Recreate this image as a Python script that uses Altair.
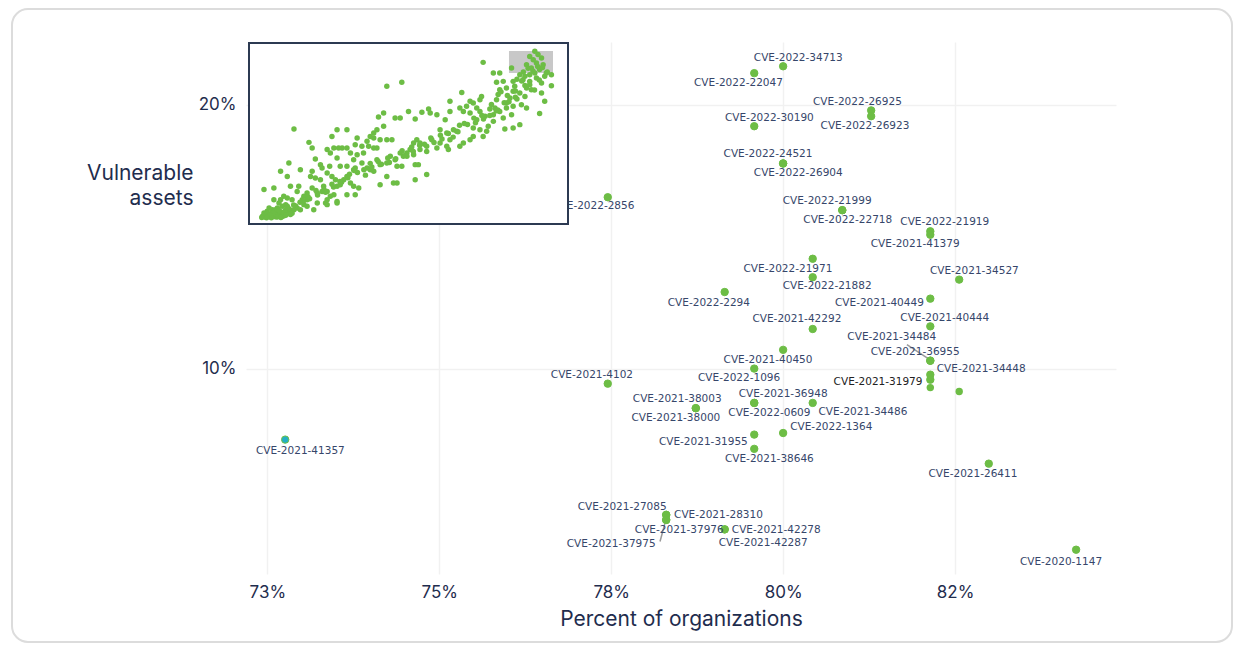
import altair as alt
import pandas as pd

# ---------------- main scatter (zoomed region) ----------------
cve = [
    "CVE-2022-34713", "CVE-2022-22047", "CVE-2022-26925", "CVE-2022-26923",
    "CVE-2022-30190", "CVE-2022-24521", "CVE-2022-26904", "CVE-2022-2856",
    "CVE-2022-21999", "CVE-2022-22718", "CVE-2022-21919", "CVE-2021-41379",
    "CVE-2021-34527", "CVE-2021-40449", "CVE-2021-40444", "CVE-2021-34484",
    "CVE-2021-36955", "CVE-2021-34448", "CVE-2021-31979", "CVE-2022-21971",
    "CVE-2022-21882", "CVE-2022-2294", "CVE-2021-42292", "CVE-2021-40450",
    "CVE-2022-1096", "CVE-2021-4102", "CVE-2021-38003", "CVE-2021-38000",
    "CVE-2021-36948", "CVE-2022-0609", "CVE-2021-34486", "CVE-2022-1364",
    "CVE-2021-31955", "CVE-2021-38646", "CVE-2021-27085", "CVE-2021-28310",
    "CVE-2021-37976", "CVE-2021-37975", "CVE-2021-42278", "CVE-2021-42287",
    "CVE-2021-41357", "CVE-2021-26411", "CVE-2020-1147",
]
org_pct = [
    80.00, 79.58, 81.28, 81.28, 79.58, 80.00, 80.00, 77.45,
    80.86, 80.86, 82.14, 82.14, 82.56, 82.14, 82.14, 82.14,
    82.14, 82.14, 82.14, 80.43, 80.43, 79.15, 80.43, 80.00,
    79.58, 77.45, 78.73, 78.73, 79.58, 79.58, 80.43, 80.00,
    79.58, 79.58, 78.30, 78.30, 78.30, 78.30, 79.15, 79.15,
    72.76, 82.99, 84.26,
]
asset_pct = [
    21.45, 21.19, 19.78, 19.56, 19.18, 17.77, 17.77, 16.49,
    16.00, 16.00, 15.20, 15.07, 13.37, 12.65, 11.60, 10.30,
    10.30, 9.77, 9.58, 14.16, 13.46, 12.90, 11.50, 10.71,
    10.00, 9.43, 8.50, 8.50, 8.70, 8.70, 8.70, 7.56,
    7.50, 6.96, 4.46, 4.46, 4.27, 4.27, 3.91, 3.91,
    7.31, 6.40, 3.14,
]
# repelled label anchors (data units)
label_org = [
    80.22, 79.35, 81.08, 81.19, 79.80, 79.78, 80.22, 77.24,
    80.64, 80.94, 82.35, 81.92, 82.78, 81.40, 82.35, 81.58,
    81.92, 82.88, 81.38, 80.07, 80.64, 78.92, 80.20, 79.78,
    79.36, 77.22, 78.46, 78.44, 80.00, 79.80, 81.16, 80.70,
    78.84, 79.80, 77.66, 79.06, 78.49, 77.50, 79.90, 79.71,
    72.98, 82.76, 84.04,
]
label_asset = [
    21.78, 20.83, 20.11, 19.20, 19.51, 18.11, 17.39, 16.14,
    16.36, 15.64, 15.57, 14.73, 13.71, 12.50, 11.93, 11.21,
    10.64, 10.00, 9.51, 13.79, 13.11, 12.50, 11.86, 10.34,
    9.66, 9.77, 8.83, 8.14, 9.02, 8.33, 8.37, 7.80,
    7.23, 6.59, 4.77, 4.47, 3.90, 3.37, 3.90, 3.41,
    6.89, 6.02, 2.69,
]
# unlabelled points
extra_org = [82.14, 82.56]
extra_asset = [9.28, 9.13]

# leader segments
seg_org = [81.80, 78.21]
seg_asset = [10.91, 3.45]
seg_org2 = [82.11, 78.28]
seg_asset2 = [10.38, 4.13]

x_ticks = [72.5, 75.0, 77.5, 80.0, 82.5]
x_tick_labels = ["73%", "75%", "78%", "80%", "82%"]
y_ticks = [10, 20]
y_tick_labels = ["10%", "20%"]

# ---------------- inset (full data overview) ----------------
inset_u = [
    89.6, 90.6, 88.0, 89.1, 91.7, 87.0, 90.1, 92.2, 88.5, 91.1, 93.2, 94.8, 82.3, 84.9, 86.5, 88.0,
    89.6, 85.9, 88.0, 90.1, 91.7, 92.7, 94.8, 82.8, 83.3, 87.0, 88.5, 91.7, 92.7, 91.1, 73.4, 76.6,
    78.6, 79.7, 77.6, 80.7, 82.8, 84.9, 86.5, 81.8, 80.7, 78.6, 78.1, 77.6, 80.7, 82.8, 85.4, 87.0,
    77.1, 78.6, 76.6, 79.7, 82.3, 84.9, 82.8, 80.2, 76.6, 75.0, 74.0, 72.4, 70.3, 71.4, 69.3, 72.4,
    72.9, 66.7, 63.0, 66.1, 67.2, 68.2, 69.3, 71.4, 70.3, 72.4, 74.5, 73.4, 70.3, 69.3, 67.2, 66.1,
    65.1, 64.1, 62.0, 63.0, 62.5, 59.9, 61.5, 63.0, 58.9, 56.8, 56.3, 54.2, 52.1, 50.0, 47.4, 45.8,
    43.2, 47.9, 40.6, 42.2, 40.1, 42.2, 39.1, 43.2, 44.8, 41.1, 39.1, 38.0, 37.0, 37.5, 39.1, 40.1,
    33.9, 33.3, 35.4, 35.9, 33.9, 31.8, 32.8, 30.7, 29.2, 28.1, 26.6, 26.0, 27.6, 30.7, 24.5, 25.5,
    27.6, 28.6, 30.7, 32.8, 33.3, 35.4, 37.0, 38.0, 39.1, 40.1, 41.1, 43.2, 44.3, 45.8, 48.4, 49.5,
    50.5, 51.6, 52.6, 53.6, 55.7, 57.3, 58.9, 59.9, 62.0, 55.7, 53.6, 51.6, 49.5, 47.4, 46.4, 47.9,
    52.1, 53.1, 55.7, 52.1, 46.4, 45.3, 43.2, 41.1, 18.8, 19.8, 14.1, 20.8, 22.4, 22.9, 19.8, 19.3,
    20.8, 22.4, 23.4, 24.5, 25.3, 26.0, 27.1, 27.6, 28.6, 29.7, 30.7, 31.8, 32.8, 34.4, 33.3, 30.7,
    26.6, 27.6, 25.5, 24.5, 22.9, 21.4, 19.8, 18.2, 17.2, 15.6, 15.1, 13.0, 12.0, 9.9, 12.5, 16.1,
    13.5, 12.0, 10.9, 11.5, 9.4, 7.8, 7.8, 4.7, 14.6, 16.1, 18.2, 20.3, 24.0, 24.5, 10.4, 8.9,
    7.3, 5.7, 4.7, 5.2, 6.8, 8.3, 9.9, 12.0, 13.0, 9.4, 10.9, 7.8, 6.3, 5.2, 7.3, 14.1,
    6.3, 4.2, 4.5, 13.0, 12.0, 9.9, 18.2, 21.4, 27.6, 24.5, 16.7, 8.9, 10.4, 5.7, 11.5, 15.1,
    17.2, 8.3,
    # extra readings from the denser parts of the cloud
    86.0, 87.5, 89.0, 90.5, 92.0, 93.5, 84.0, 85.5, 88.0, 91.0, 83.5, 86.5, 89.5, 81.0, 84.0, 79.0,
    81.5, 83.5, 76.0, 78.0, 80.0, 75.5, 77.5, 73.5, 75.5, 71.0, 73.0, 68.5, 70.5, 65.5, 67.5, 64.0,
    66.0, 60.5, 62.5, 58.0, 60.0, 55.0, 57.0, 51.5, 53.5, 49.0, 51.0, 46.0, 48.0, 44.0, 41.5, 43.5,
    38.5, 40.5, 36.0, 38.0, 34.0, 36.5, 31.0, 33.0, 29.0, 31.5, 26.5, 28.5, 24.0, 26.0, 21.5, 23.5,
    19.0, 21.0, 17.0, 18.5, 14.5, 16.0, 12.5, 14.0, 10.5, 12.0, 8.0, 9.5, 6.0, 7.5, 5.0, 6.5,
    8.5, 11.0, 13.5, 7.0, 9.0, 10.0, 11.5, 4.0, 5.5,
]
inset_v = [
    95.4, 93.6, 92.6, 90.8, 91.7, 88.0, 88.9, 88.0, 86.2, 85.3, 83.4, 82.5, 86.2, 82.5, 81.6, 82.5,
    83.4, 79.7, 78.8, 80.7, 77.9, 81.6, 76.4, 78.8, 76.1, 75.1, 74.2, 72.4, 67.8, 61.0, 89.3, 83.4,
    83.4, 78.8, 78.3, 75.1, 73.3, 72.4, 70.5, 69.6, 66.9, 74.2, 71.5, 68.7, 64.1, 65.0, 65.9, 64.1,
    64.1, 62.2, 60.4, 58.6, 60.4, 54.9, 53.0, 52.5, 56.7, 54.0, 59.5, 62.2, 66.9, 64.1, 67.8, 68.7,
    70.5, 72.7, 67.8, 64.1, 62.2, 65.0, 61.3, 57.6, 53.0, 52.1, 51.2, 48.4, 48.4, 46.6, 44.8, 42.9,
    51.2, 52.1, 50.3, 46.6, 41.1, 52.1, 57.6, 62.2, 60.4, 61.3, 63.5, 61.7, 58.0, 62.2, 58.6, 58.6,
    76.1, 78.3, 59.1, 61.3, 52.1, 54.0, 50.3, 46.6, 46.6, 46.6, 47.5, 48.4, 45.7, 42.9, 42.0, 42.0,
    47.5, 43.8, 42.9, 39.2, 38.3, 39.2, 35.5, 42.0, 42.0, 42.0, 42.0, 48.4, 52.1, 52.1, 41.1, 39.2,
    36.5, 31.9, 31.9, 30.0, 30.9, 33.7, 30.9, 30.0, 29.1, 35.5, 32.8, 33.7, 37.4, 35.5, 37.4, 39.2,
    41.1, 44.8, 46.6, 44.8, 42.9, 46.6, 42.0, 44.8, 42.9, 40.1, 41.1, 38.3, 37.4, 39.2, 31.9, 31.9,
    32.8, 32.8, 27.3, 24.5, 22.7, 22.7, 26.3, 21.7, 45.1, 42.0, 52.5, 35.9, 32.8, 30.9, 29.1, 26.3,
    25.4, 24.5, 20.8, 28.2, 31.9, 26.3, 24.5, 20.8, 21.7, 24.5, 26.3, 22.7, 20.8, 19.9, 16.2, 16.2,
    16.2, 11.6, 15.3, 18.0, 18.0, 17.1, 19.9, 17.1, 15.3, 20.8, 18.0, 20.8, 26.3, 29.1, 33.7, 30.0,
    13.4, 14.4, 15.3, 10.7, 11.6, 13.4, 19.9, 19.0, 9.8, 7.9, 9.8, 7.9, 11.6, 10.7, 9.8, 8.8,
    7.9, 7.0, 6.1, 5.2, 5.2, 6.1, 6.1, 7.0, 7.6, 5.2, 5.2, 4.2, 4.2, 4.2, 6.4, 7.9,
    8.8, 4.2, 4.6, 5.2, 9.8, 13.4, 13.4, 11.6, 12.5, 13.4, 13.4, 4.2, 4.2, 5.7, 7.9, 8.8,
    10.7, 7.9,
    84.0, 86.0, 84.5, 87.0, 86.5, 84.0, 80.0, 79.0, 77.0, 79.5, 73.5, 76.5, 74.0, 71.0, 69.0, 73.0,
    67.5, 70.0, 66.0, 63.0, 67.0, 60.0, 62.5, 58.0, 63.5, 56.0, 60.0, 55.0, 58.5, 51.0, 55.5, 48.0,
    54.5, 47.0, 50.0, 45.0, 49.0, 44.0, 47.5, 40.0, 43.5, 38.0, 42.5, 36.0, 40.5, 34.0, 33.0, 36.5,
    31.5, 34.5, 30.0, 33.5, 28.5, 27.0, 25.5, 29.5, 23.0, 27.5, 20.5, 23.5, 17.5, 22.0, 16.0, 19.0,
    14.0, 18.5, 12.5, 15.0, 10.0, 12.0, 8.5, 10.5, 6.5, 9.0, 5.5, 7.5, 4.5, 6.0, 3.8, 5.0,
    3.8, 4.5, 6.0, 3.5, 4.0, 3.6, 4.8, 3.6, 3.4,
]
# grey box in the inset marking the zoomed region
inset_box_u = [81.5, 95.3]
inset_box_v = [83.4, 95.6]

# ---------------- styling ----------------
GREEN = "#6dbd45"
TEAL = "#24b0c4"
NAVY = "#1f2d4e"
LABEL = "#36466a"
W, H = 870, 532
X_DOMAIN = [72.19, 84.84]
Y_DOMAIN = [2.22, 22.37]


def label_expr(vals, labs):
    parts = [f"datum.value == {v} ? '{l}'" for v, l in zip(vals, labs)]
    return " : ".join(parts) + " : ''"


xs = alt.Scale(domain=X_DOMAIN, nice=False, zero=False)
ys = alt.Scale(domain=Y_DOMAIN, nice=False, zero=False)

df = pd.DataFrame({
    "cve": cve, "org": org_pct, "assets": asset_pct,
    "lx": label_org, "ly": label_asset,
})
extra_df = pd.DataFrame({"org": extra_org, "assets": extra_asset})
seg_df = pd.DataFrame({"org": seg_org, "assets": seg_asset, "org2": seg_org2, "assets2": seg_asset2})
one = pd.DataFrame({"k": [0]})

x_axis = alt.Axis(
    values=x_ticks, labelExpr=label_expr(x_ticks, x_tick_labels),
    title="Percent of organizations", grid=True, gridColor="#f1f1f1", gridWidth=1.5,
    domain=False, ticks=False, labelPadding=10, titlePadding=8,
    labelFont="Inter", labelFontSize=17, labelColor=NAVY,
    titleFont="Inter", titleFontSize=21, titleFontWeight="normal", titleColor=NAVY,
)
y_axis = alt.Axis(
    values=y_ticks, labelExpr=label_expr(y_ticks, y_tick_labels),
    title=["Vulnerable", "assets"], titleAngle=0, titleAlign="right",
    titleBaseline="top", titleX=-53, titleY=120, titleLineHeight=25,
    grid=True, gridColor="#f1f1f1", gridWidth=1.5,
    domain=False, ticks=False, labelPadding=10,
    labelFont="Inter", labelFontSize=17, labelColor=NAVY,
    titleFont="Inter", titleFontSize=21, titleFontWeight="normal", titleColor=NAVY,
)

outer_frame = alt.Chart(one).mark_rect(
    fill="white", fillOpacity=0, stroke="#dcdcdc", strokeWidth=2, cornerRadius=16
).encode(x=alt.value(-234), x2=alt.value(986), y=alt.value(-33), y2=alt.value(600))

points = alt.Chart(df).mark_circle(size=55, opacity=1, stroke=GREEN, strokeWidth=1).encode(
    x=alt.X("org:Q", scale=xs, axis=x_axis),
    y=alt.Y("assets:Q", scale=ys, axis=y_axis),
    fill=alt.condition(alt.datum.cve == "CVE-2021-41357", alt.value(TEAL), alt.value(GREEN)),
)
extra_points = alt.Chart(extra_df).mark_circle(size=55, opacity=1, color=GREEN).encode(
    x=alt.X("org:Q", scale=xs, axis=x_axis),
    y=alt.Y("assets:Q", scale=ys, axis=y_axis),
)
segments = alt.Chart(seg_df).mark_rule(color="#9a9a9a", strokeWidth=1.5).encode(
    x=alt.X("org:Q", scale=xs, axis=x_axis), x2="org2:Q",
    y=alt.Y("assets:Q", scale=ys, axis=y_axis), y2="assets2:Q",
)
labels = alt.Chart(df).mark_text(
    font="DejaVu Sans", fontSize=10.5, align="center", baseline="middle"
).encode(
    x=alt.X("lx:Q", scale=xs, axis=x_axis),
    y=alt.Y("ly:Q", scale=ys, axis=y_axis),
    text="cve:N",
    color=alt.condition(alt.datum.cve == "CVE-2021-31979", alt.value("#222222"), alt.value(LABEL)),
)

main = alt.layer(outer_frame, segments, points, extra_points, labels)

iu = alt.Scale(domain=[0, 100], range=[3, 322], nice=False, zero=False)
iv = alt.Scale(domain=[0, 100], range=[182, 1], nice=False, zero=False)
inset_df = pd.DataFrame({"u": inset_u, "v": inset_v})
box_df = pd.DataFrame({"u0": [inset_box_u[0]], "u1": [inset_box_u[1]],
                       "v0": [inset_box_v[0]], "v1": [inset_box_v[1]]})

inset_frame = alt.Chart(one).mark_rect(fill="white", stroke="#2c3a52", strokeWidth=2).encode(
    x=alt.value(3), x2=alt.value(322), y=alt.value(1), y2=alt.value(182)
)
inset_box = alt.Chart(box_df).mark_rect(color="#c8c8c8").encode(
    x=alt.X("u0:Q", scale=iu, axis=None), x2="u1:Q",
    y=alt.Y("v0:Q", scale=iv, axis=None), y2="v1:Q",
)
inset_pts = alt.Chart(inset_df).mark_circle(size=30, opacity=1, color=GREEN).encode(
    x=alt.X("u:Q", scale=iu, axis=None),
    y=alt.Y("v:Q", scale=iv, axis=None),
)
inset = alt.layer(inset_frame, inset_box, inset_pts)

chart = alt.layer(main, inset).resolve_scale(x="independent", y="independent").properties(
    width=W, height=H,
    autosize=alt.AutoSizeParams(type="none"),
    padding={"left": 238, "top": 34, "right": 120, "bottom": 70},
    background="white",
).configure_view(stroke=None)

chart.save("out.html", embed_options={"renderer": "svg", "actions": False})
